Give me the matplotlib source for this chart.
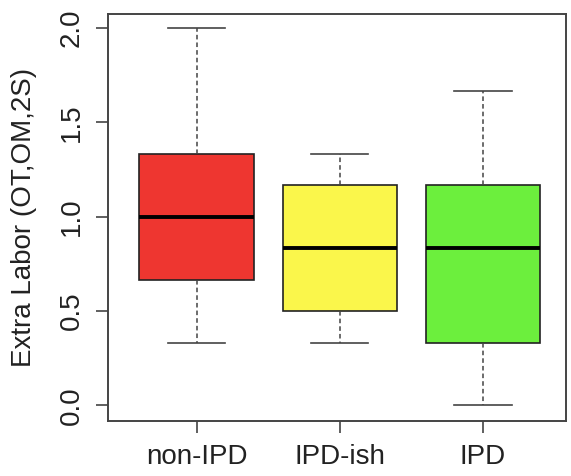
import matplotlib
matplotlib.use("Agg")
import matplotlib.pyplot as plt

# boxplot statistics
groups = ["non-IPD", "IPD-ish", "IPD"]
whislo = [0.333, 0.333, 0.0]
q1 = [0.667, 0.5, 0.333]
med = [1.0, 0.833, 0.833]
q3 = [1.333, 1.167, 1.167]
whishi = [2.0, 1.333, 1.667]
colors = ["#EE3630", "#FAF64B", "#6CEF3D"]

plt.rcParams['font.family'] = ['Liberation Sans', 'DejaVu Sans']

stats = []
for i, g in enumerate(groups):
    stats.append(dict(label=g, whislo=whislo[i], q1=q1[i], med=med[i],
                      q3=q3[i], whishi=whishi[i], fliers=[]))

fig = plt.figure(figsize=(5.71, 4.76), dpi=100)
ax = fig.add_axes([108 / 571, 1 - 421 / 476, 458 / 571, 407 / 476])

bp = ax.bxp(stats, positions=[1, 2, 3], widths=0.8, patch_artist=True,
            showfliers=False,
            boxprops=dict(edgecolor="#222222", linewidth=1.2),
            medianprops=dict(color="black", linewidth=2.8),
            whiskerprops=dict(color="#444444", linestyle=(0, (3, 2)), linewidth=1.1),
            capprops=dict(color="#444444", linewidth=1.2),
            capwidths=0.4)
for patch, c in zip(bp["boxes"], colors):
    patch.set_facecolor(c)

ax.set_xlim(0.38, 3.58)
ax.set_ylim(-0.083, 2.075)
ax.set_yticks([0.0, 0.5, 1.0, 1.5, 2.0])
ax.set_yticklabels(["0.0", "0.5", "1.0", "1.5", "2.0"], rotation=90, va="center")
ax.tick_params(axis="both", labelsize=20, length=8.6, width=1.2, color="#444444",
               pad=8, labelcolor="#222222")
ax.set_ylabel("Extra Labor (OT,OM,2S)", fontsize=20, color="#222222")
ax.yaxis.set_label_coords(-0.155, 0.5)
for s in ax.spines.values():
    s.set_linewidth(1.4)
    s.set_color("#444444")

fig.savefig("out.png", dpi=100)
